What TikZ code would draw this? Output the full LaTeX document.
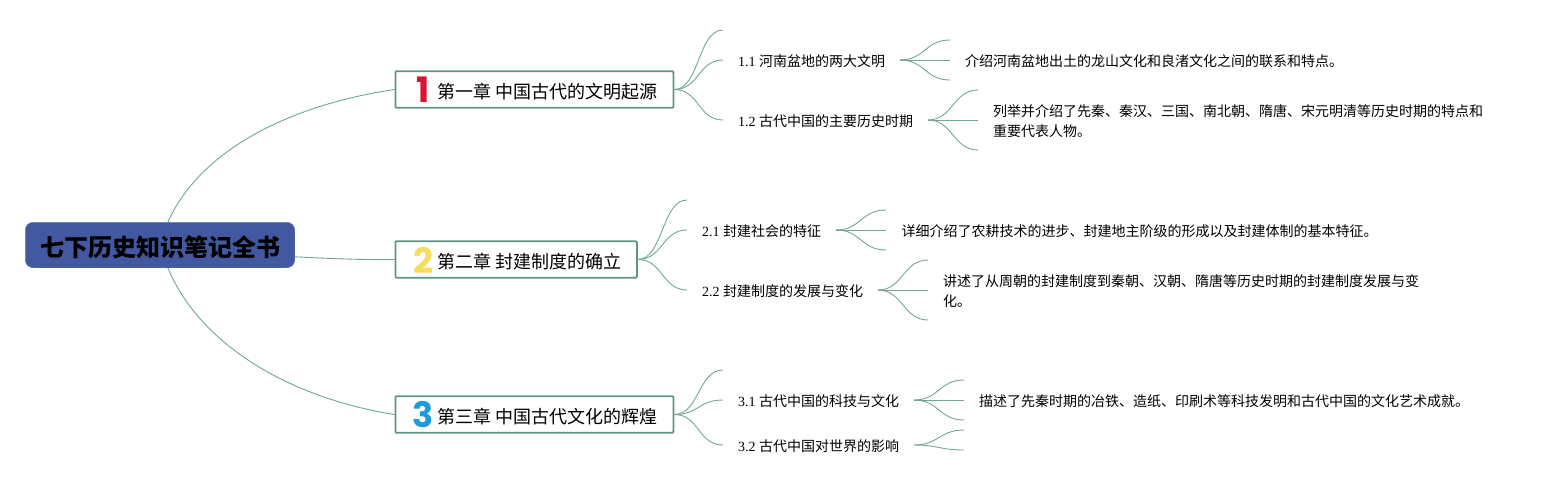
\documentclass[tikz,border=0pt]{standalone}
\usepackage{fontspec}
\setmainfont{Noto Sans CJK SC}
\newfontfamily\latinfont{Liberation Serif}
\newfontfamily\digitfont{Poppins}
\usetikzlibrary{positioning}
\definecolor{rootblue}{HTML}{4259A1}
\definecolor{branchgreen}{HTML}{72A595}
\definecolor{boxgreen}{HTML}{5F9383}
\definecolor{onered}{HTML}{D9142F}
\definecolor{twoyellow}{HTML}{F6DC5C}
\definecolor{threeblue}{HTML}{1E9BDB}
\newcommand{\num}[1]{{\latinfont #1 }}
\newcommand{\forkto}[3]{%
	\foreach \yy [count=\i] in {#3} {
		\coordinate (#1-\i) at (#2,\yy);
		\draw[branch] (#1) .. controls +(25,0) and +(-25,0) .. (#1-\i);
	}}
\tikzset{
root/.style={
	  draw=rootblue!85!white, fill=rootblue, rounded corners=8pt,
	    minimum width=269.5pt, minimum height=45.5pt, inner sep=0pt},
chapter/.style={
	  draw=boxgreen, line width=1.8pt, fill=white, rounded corners=1pt,
	    minimum height=36.5pt, inner sep=0pt, anchor=west},
title/.style={anchor=west, inner sep=0pt, font=\fontsize{18}{22}\selectfont},
badge/.style={inner sep=0pt, font=\fontsize{35}{35}\selectfont\digitfont\bfseries},
section/.style={anchor=west, inner sep=0pt, font=\fontsize{14}{20}\selectfont},
detail/.style={anchor=west, inner sep=0pt, align=left, font=\fontsize{14}{20}\selectfont},
branch/.style={draw=branchgreen, line width=0.9pt}
}

\begin{document}
\begin{tikzpicture}[x=1pt, y=-1pt]
	\useasboundingbox (0,0) rectangle (1553,485);
	\node[root] (book) at (160,245) {};
	\node[inner sep=0pt, font=\fontsize{24}{28}\selectfont\bfseries] (booktitle) at (160.5,247) {七下历史知识笔记全书};

	% chapters
	\node[chapter, minimum width=278pt] (ch1) at (394.5,89.5) {};
	\node[chapter, minimum width=241.5pt] (ch2) at (394.5,259.5) {};
	\node[chapter, minimum width=278pt] (ch3) at (394.5,414.5) {};
	\node[badge, text=onered] (b1) at (423,90) {1};
	\node[badge, text=twoyellow] (b2) at (423,260) {2};
	\node[badge, text=threeblue] (b3) at (423,415) {3};
	\node[title] (t1) at (437,91.5) {第一章 中国古代的文明起源};
	\node[title] (t2) at (437,261.5) {第二章 封建制度的确立};
	\node[title] (t3) at (437,416.5) {第三章 中国古代文化的辉煌};

	\draw[branch] (book.71) .. controls (200,150) and (290,105) .. (ch1.west);
	\draw[branch] (book.-5) .. controls (330,258.5) and (360,260) .. (ch2.west);
	\draw[branch] (book.-71) .. controls (200,345) and (290,398) .. (ch3.west);

	% sections
	\node[section] (s11) at (738,61.5) {\num{1.1}河南盆地的两大文明};
	\node[section] (s12) at (738,121.5) {\num{1.2}古代中国的主要历史时期};
	\node[section] (s21) at (702,231.5) {\num{2.1}封建社会的特征};
	\node[section] (s22) at (702,291.5) {\num{2.2}封建制度的发展与变化};
	\node[section] (s31) at (738,401.5) {\num{3.1}古代中国的科技与文化};
	\node[section] (s32) at (738,446.5) {\num{3.2}古代中国对世界的影响};

	% details
	\node[detail] (d11) at (965,61.5) {介绍河南盆地出土的龙山文化和良渚文化之间的联系和特点。};
	\node[detail] (d12) at (993,121.5) {列举并介绍了先秦、秦汉、三国、南北朝、隋唐、宋元明清等历史时期的特点和\\重要代表人物。};
	\node[detail] (d21) at (901.5,231.5) {详细介绍了农耕技术的进步、封建地主阶级的形成以及封建体制的基本特征。};
	\node[detail] (d22) at (943,291.5) {讲述了从周朝的封建制度到秦朝、汉朝、隋唐等历史时期的封建制度发展与变\\化。};
	\node[detail] (d31) at (979,401.5) {描述了先秦时期的冶铁、造纸、印刷术等科技发明和古代中国的文化艺术成就。};

	% forks
	\coordinate (f1) at (ch1.east);
	\coordinate (f2) at (ch2.east);
	\coordinate (f3) at (ch3.east);
	\coordinate (f11) at (900,60);
	\coordinate (f12) at (928,120);
	\coordinate (f21) at (836,230);
	\coordinate (f22) at (878,290);
	\coordinate (f31) at (914,400);
	\coordinate (f32) at (914,445);
	\forkto{f1}{723}{30,60,120}
	\forkto{f2}{687}{200,230,290}
	\forkto{f3}{723}{370,400,445}
	\forkto{f11}{950}{40,60,80}
	\forkto{f12}{978}{90,120,150}
	\forkto{f21}{886}{210,230,250}
	\forkto{f22}{928}{260,290,320}
	\forkto{f31}{964}{380,400,420}
	\forkto{f32}{964}{430,450}
\end{tikzpicture}
\end{document}
